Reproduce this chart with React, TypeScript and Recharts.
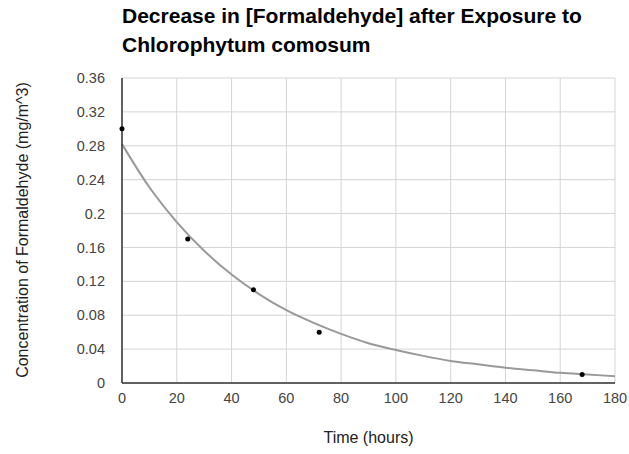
import { ComposedChart, Line, Scatter, XAxis, YAxis, CartesianGrid } from 'recharts';

// measured points (hours, mg/m^3)
const hours = [0, 24, 48, 72, 168];
const concentration = [0.3, 0.17, 0.11, 0.06, 0.01];

// exponential trendline, every 10 h
const trendHours = [0, 10, 20, 30, 40, 50, 60, 70, 80, 90, 100, 110, 120, 130, 140, 150, 160, 170, 180];
const trendValues = [
  0.282, 0.231, 0.19, 0.156, 0.128, 0.105, 0.086, 0.071, 0.058, 0.047,
  0.039, 0.032, 0.026, 0.022, 0.018, 0.015, 0.012, 0.01, 0.008,
];

const xTicks = [0, 20, 40, 60, 80, 100, 120, 140, 160, 180];
const yTicks = [0, 0.04, 0.08, 0.12, 0.16, 0.2, 0.24, 0.28, 0.32, 0.36];

const points = hours.map((x, i) => ({ x, y: concentration[i] }));
const trend = trendHours.map((x, i) => ({ x, y: trendValues[i] }));

const font = 'Arial, "Liberation Sans", Helvetica, sans-serif';
const tickStyle = { fontFamily: font, fontSize: 14.5, fill: '#444' };

export default function App() {
  return (
    <div style={{ position: 'absolute', left: 0, top: 0, width: 629, height: 454, background: '#fff', fontFamily: font }}>
      <div style={{ position: 'absolute', left: 122, top: 2, fontSize: 21, fontWeight: 'bold', color: '#000', lineHeight: '28.5px', whiteSpace: 'nowrap' }}>
        Decrease in [Formaldehyde] after Exposure to<br />Chlorophytum comosum
      </div>

      <ComposedChart width={629} height={454} margin={{ top: 78, right: 14, bottom: 41, left: 62 }}>
        <CartesianGrid stroke="#d4d4d4" strokeWidth={1} />
        <XAxis
          type="number"
          dataKey="x"
          domain={[0, 180]}
          ticks={xTicks}
          interval={0}
          height={30}
          tickSize={0}
          tickMargin={10}
          tick={tickStyle}
          axisLine={{ stroke: '#333', strokeWidth: 1.5 }}
        />
        <YAxis
          type="number"
          dataKey="y"
          domain={[0, 0.36]}
          ticks={yTicks}
          interval={0}
          width={60}
          tickSize={0}
          tickMargin={17}
          tick={tickStyle}
          axisLine={{ stroke: '#333', strokeWidth: 1.5 }}
        />
        <Line
          data={trend}
          dataKey="y"
          type="monotone"
          stroke="#999"
          strokeWidth={2}
          dot={false}
          activeDot={false}
          isAnimationActive={false}
        />
        <Scatter
          data={points}
          dataKey="y"
          fill="#000"
          isAnimationActive={false}
          shape={(p: any) => <circle cx={p.cx} cy={p.cy} r={2.5} fill="#000" />}
        />
      </ComposedChart>

      <div style={{ position: 'absolute', left: 0, width: 737, top: 429, textAlign: 'center', fontSize: 16, color: '#222' }}>
        Time (hours)
      </div>
      <div
        style={{
          position: 'absolute', left: 23, top: 230, width: 400, marginLeft: -200, textAlign: 'center',
          fontSize: 16, color: '#222', lineHeight: '18px', marginTop: -9, transform: 'rotate(-90deg)', whiteSpace: 'nowrap',
        }}
      >
        Concentration of Formaldehyde (mg/m^3)
      </div>
    </div>
  );
}
